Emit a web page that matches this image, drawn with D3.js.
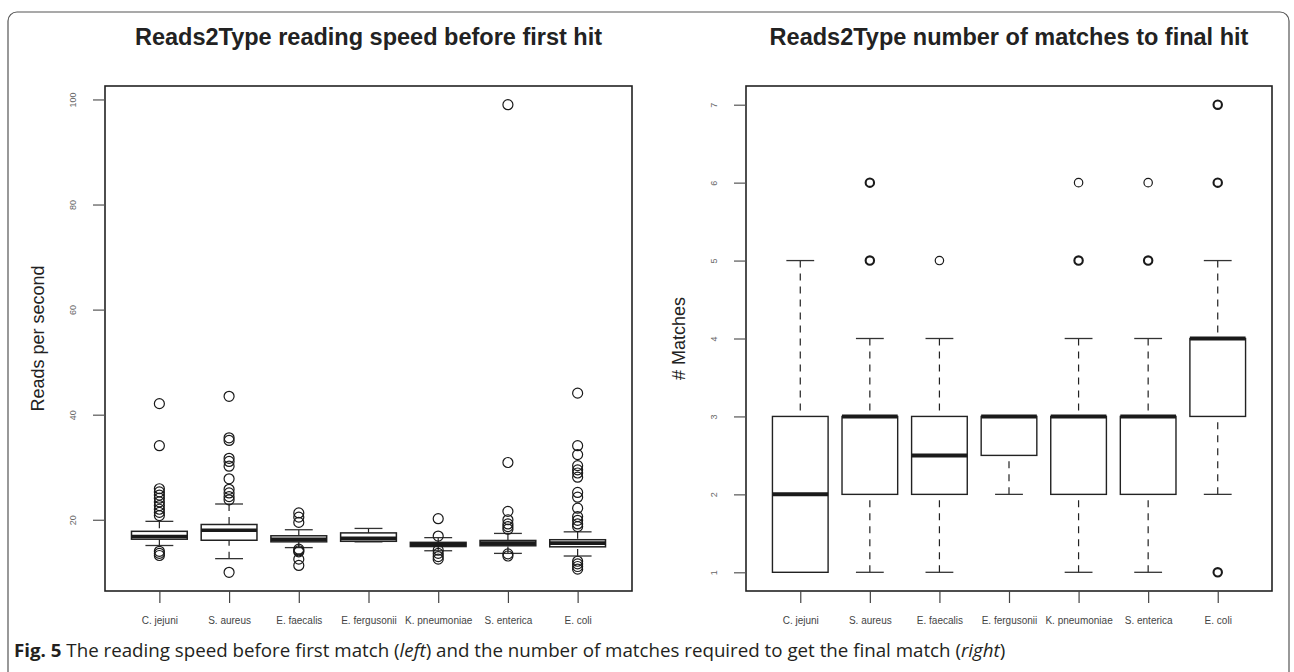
<!DOCTYPE html>
<html>
<head>
<meta charset="utf-8">
<script src="https://cdn.jsdelivr.net/npm/d3@7"></script>
<style>
  body { margin: 0; background: #fff; }
  svg { display: block; }
</style>
</head>
<body>
<div id="chart"></div>
<script>
var width = 1294;
var height = 672;

var species = ["C. jejuni", "S. aureus", "E. faecalis", "E. fergusonii", "K. pneumoniae", "S. enterica", "E. coli"];

// left panel: reads per second before first hit
var speedLowWhisk  = [15.1, 12.6, 14.7, 15.8, 14.1, 13.6, 13.1];
var speedQ1        = [16.3, 16.1, 15.8, 15.9, 14.9, 15.05, 14.85];
var speedMedian    = [16.8, 18.0, 16.3, 16.45, 15.3, 15.55, 15.55];
var speedQ3        = [17.8, 19.1, 16.95, 17.5, 15.7, 16.06, 16.2];
var speedHighWhisk = [19.7, 23.0, 18.1, 18.35, 16.6, 17.4, 17.7];
var speedOutliers = [
  [42.1, 34.1, 25.9, 25.3, 24.7, 24.1, 23.4, 22.7, 22.0, 21.4, 20.8, 14.0, 13.6, 13.2],
  [43.5, 35.6, 35.1, 31.7, 31.1, 30.2, 27.8, 25.8, 25.1, 24.4, 23.8, 10.0],
  [21.3, 20.5, 19.5, 14.4, 14.1, 13.9, 12.5, 11.3],
  [],
  [20.2, 16.9, 14.2, 13.6, 13.0, 12.5],
  [99.0, 30.9, 21.6, 20.0, 19.2, 18.7, 18.2, 13.5, 13.1],
  [44.1, 34.1, 32.4, 30.3, 29.5, 28.9, 28.1, 25.2, 24.3, 22.2, 20.6, 19.9, 19.2, 18.7, 12.1, 11.6, 11.1, 10.6]
];
var speedTicks = [20, 40, 60, 80, 100];

// right panel: number of matches to final hit
var matchLowWhisk  = [1, 1, 1, 2, 1, 1, 2];
var matchQ1        = [1, 2, 2, 2.5, 2, 2, 3];
var matchMedian    = [2, 3, 2.5, 3, 3, 3, 4];
var matchQ3        = [3, 3, 3, 3, 3, 3, 4];
var matchHighWhisk = [5, 4, 4, 3, 4, 4, 5];
var matchOutliers = [
  [],
  [5, 5, 6, 6],
  [5],
  [],
  [5, 5, 6],
  [5, 5, 6],
  [6, 6, 7, 7, 1, 1]
];
var matchTicks = [1, 2, 3, 4, 5, 6, 7];

var svg = d3.select("#chart").append("svg")
  .attr("width", width)
  .attr("height", height)
  .style("font-family", "'Liberation Sans', Arial, Helvetica, sans-serif");

// rounded frame of the figure
svg.append("rect")
  .attr("x", 8).attr("y", 12)
  .attr("width", 1281).attr("height", 720)
  .attr("rx", 9)
  .attr("fill", "none")
  .attr("stroke", "#555")
  .attr("stroke-width", 1.2);

function drawPanel(p) {
  var x = d3.scaleLinear().domain([0.22, 7.78]).range([p.left, p.right]);

  var all = [];
  p.low.forEach(function(d) { all.push(d); });
  p.high.forEach(function(d) { all.push(d); });
  p.outliers.forEach(function(o) { o.forEach(function(d) { all.push(d); }); });
  var lo = d3.min(all), hi = d3.max(all), pad = 0.04 * (hi - lo);
  var y = d3.scaleLinear().domain([lo - pad, hi + pad]).range([591, 86]);

  var g = svg.append("g");
  var bw = 0.8 * (x(2) - x(1));

  var rows = species.map(function(s, i) {
    return { name: s, i: i + 1, low: p.low[i], q1: p.q1[i], med: p.med[i], q3: p.q3[i], high: p.high[i], out: p.outliers[i] };
  });

  var box = g.selectAll(".box").data(rows).enter().append("g").attr("class", "box");

  // whiskers (dashed), drawn from the whisker end toward the box
  box.filter(function(d) { return d.high > d.q3; }).append("line")
    .attr("x1", function(d) { return x(d.i); }).attr("x2", function(d) { return x(d.i); })
    .attr("y1", function(d) { return y(d.high); }).attr("y2", function(d) { return y(d.q3); })
    .attr("stroke", "#222").attr("stroke-width", 1.2).attr("stroke-dasharray", "7,6");
  box.filter(function(d) { return d.low < d.q1; }).append("line")
    .attr("x1", function(d) { return x(d.i); }).attr("x2", function(d) { return x(d.i); })
    .attr("y1", function(d) { return y(d.low); }).attr("y2", function(d) { return y(d.q1); })
    .attr("stroke", "#222").attr("stroke-width", 1.2).attr("stroke-dasharray", "7,6");

  // staples
  ["low", "high"].forEach(function(k) {
    box.append("line")
      .attr("x1", function(d) { return x(d.i) - bw / 4; })
      .attr("x2", function(d) { return x(d.i) + bw / 4; })
      .attr("y1", function(d) { return y(d[k]); })
      .attr("y2", function(d) { return y(d[k]); })
      .attr("stroke", "#333").attr("stroke-width", 1.3);
  });

  box.append("rect")
    .attr("x", function(d) { return x(d.i) - bw / 2; })
    .attr("y", function(d) { return y(d.q3); })
    .attr("width", bw)
    .attr("height", function(d) { return Math.max(0.5, y(d.q1) - y(d.q3)); })
    .attr("fill", "#fff")
    .attr("stroke", "#222")
    .attr("stroke-width", p.boxStroke);

  box.append("line")
    .attr("x1", function(d) { return x(d.i) - bw / 2; })
    .attr("x2", function(d) { return x(d.i) + bw / 2; })
    .attr("y1", function(d) { return y(d.med); })
    .attr("y2", function(d) { return y(d.med); })
    .attr("stroke", "#1a1a1a")
    .attr("stroke-width", p.medStroke);

  // outliers; repeated values are drawn heavier
  box.each(function(d) {
    var counts = d3.rollups(d.out, function(v) { return v.length; }, function(v) { return v; });
    d3.select(this).selectAll("circle").data(counts).enter().append("circle")
      .attr("cx", x(d.i))
      .attr("cy", function(c) { return y(c[0]); })
      .attr("r", p.r)
      .attr("fill", "none")
      .attr("stroke", "#1a1a1a")
      .attr("stroke-width", function(c) { return c[1] > 1 ? 2.1 : 1.2; });
  });

  // plot frame
  g.append("rect")
    .attr("x", p.left).attr("y", 86)
    .attr("width", p.right - p.left).attr("height", 505)
    .attr("fill", "none").attr("stroke", "#222").attr("stroke-width", 1.6);

  var yAxis = g.append("g")
    .attr("transform", "translate(" + p.left + ",0)")
    .call(d3.axisLeft(y).tickValues(p.ticks).tickSize(12).tickFormat(d3.format("d")));
  yAxis.select(".domain").remove();
  yAxis.selectAll("line").attr("stroke", "#555").attr("stroke-width", 1.2);
  yAxis.selectAll("text")
    .attr("transform", "rotate(-90)")
    .attr("x", 0).attr("y", -32).attr("dy", "0.35em")
    .attr("text-anchor", "middle")
    .attr("fill", "#666")
    .style("font-size", "9px");

  var xAxis = g.append("g")
    .attr("transform", "translate(0,591)")
    .call(d3.axisBottom(x).tickValues(d3.range(1, 8)).tickSize(12).tickPadding(14)
      .tickFormat(function(i) { return species[i - 1]; }));
  xAxis.select(".domain").remove();
  xAxis.selectAll("line").attr("stroke", "#444").attr("stroke-width", 1.2);
  xAxis.selectAll("text").attr("fill", "#444").style("font-size", "10px");

  g.append("text")
    .attr("x", (p.left + p.right) / 2).attr("y", 45)
    .attr("text-anchor", "middle")
    .attr("fill", "#222")
    .style("font-size", "23.5px").style("font-weight", "bold")
    .text(p.title);

  g.append("text")
    .attr("transform", "translate(" + (p.left - 67) + ",338.5) rotate(-90)")
    .attr("dy", "0.35em")
    .attr("text-anchor", "middle")
    .attr("fill", "#222")
    .style("font-size", "18px")
    .text(p.ylab);
}

drawPanel({
  left: 105, right: 632,
  title: "Reads2Type reading speed before first hit",
  ylab: "Reads per second",
  low: speedLowWhisk, q1: speedQ1, med: speedMedian, q3: speedQ3, high: speedHighWhisk,
  outliers: speedOutliers, ticks: speedTicks,
  r: 5, boxStroke: 1.5, medStroke: 3.6
});

drawPanel({
  left: 746, right: 1272,
  title: "Reads2Type number of matches to final hit",
  ylab: "# Matches",
  low: matchLowWhisk, q1: matchQ1, med: matchMedian, q3: matchQ3, high: matchHighWhisk,
  outliers: matchOutliers, ticks: matchTicks,
  r: 4.2, boxStroke: 1.4, medStroke: 4
});

// caption, squeezed horizontally to the width of the original narrow face
var cap = svg.append("text")
  .attr("fill", "#231f20")
  .style("font-family", "'Open Sans', 'Noto Sans', sans-serif")
  .style("font-size", "18.5px");
cap.append("tspan").style("font-weight", "bold").text("Fig. 5");
cap.append("tspan").text(" The reading speed before first match (");
cap.append("tspan").style("font-style", "italic").text("left");
cap.append("tspan").text(") and the number of matches required to get the final match (");
cap.append("tspan").style("font-style", "italic").text("right");
cap.append("tspan").text(")");

var capLen = cap.node().getComputedTextLength();
cap.attr("transform", "translate(14,657) scale(" + (992 / capLen) + ",1)");
</script>
</body>
</html>
